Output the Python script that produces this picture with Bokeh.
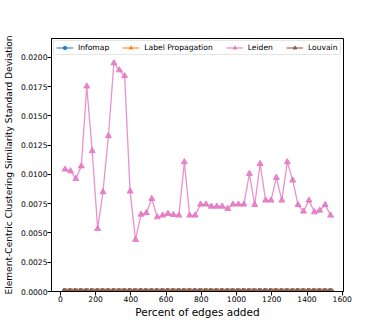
import math
from bokeh.plotting import figure
from bokeh.models import Range1d, FixedTicker, PrintfTickFormatter, Legend, LegendItem
from bokeh.embed import file_html
from bokeh.resources import INLINE

# ---------------- data ----------------
pct_added = [27, 58, 88, 119, 150, 181, 212, 242, 273, 304, 335, 365, 396, 427,
             458, 488, 519, 550, 581, 611, 642, 673, 704, 734, 765, 796, 827,
             857, 888, 919, 950, 980, 1011, 1042, 1073, 1103, 1134, 1165, 1196,
             1226, 1257, 1288, 1319, 1349, 1380, 1411, 1442, 1472, 1503, 1534]

infomap = [0.0, 0.0, 0.0, 0.0, 0.0, 0.0, 0.0, 0.0, 0.0, 0.0,
           0.0, 0.0, 0.0, 0.0, 0.0, 0.0, 0.0, 0.0, 0.0, 0.0,
           0.0, 0.0, 0.0, 0.0, 0.0, 0.0, 0.0, 0.0, 0.0, 0.0,
           0.0, 0.0, 0.0, 0.0, 0.0, 0.0, 0.0, 0.0, 0.0, 0.0,
           0.0, 0.0, 0.0, 0.0, 0.0, 0.0, 0.0, 0.0, 0.0, 0.0]
label_propagation = [0.0, 0.0, 0.0, 0.0, 0.0, 0.0, 0.0, 0.0, 0.0, 0.0,
                     0.0, 0.0, 0.0, 0.0, 0.0, 0.0, 0.0, 0.0, 0.0, 0.0,
                     0.0, 0.0, 0.0, 0.0, 0.0, 0.0, 0.0, 0.0, 0.0, 0.0,
                     0.0, 0.0, 0.0, 0.0, 0.0, 0.0, 0.0, 0.0, 0.0, 0.0,
                     0.0, 0.0, 0.0, 0.0, 0.0, 0.0, 0.0, 0.0, 0.0, 0.0]
leiden = [0.01043, 0.01028, 0.00963, 0.01070, 0.01752, 0.01200, 0.00536,
          0.00849, 0.01328, 0.01950, 0.01890, 0.01840, 0.00855, 0.00442,
          0.00658, 0.00670, 0.00792, 0.00635, 0.00650, 0.00664, 0.00655,
          0.00650, 0.01105, 0.00650, 0.00650, 0.00744, 0.00744, 0.00726,
          0.00726, 0.00726, 0.00707, 0.00744, 0.00744, 0.00744, 0.01006,
          0.00740, 0.01090, 0.00778, 0.00778, 0.00972, 0.00778, 0.01105,
          0.00949, 0.00740, 0.00684, 0.00778, 0.00678, 0.00692, 0.00740,
          0.00650]
louvain = [0.0, 0.0, 0.0, 0.0, 0.0, 0.0, 0.0, 0.0, 0.0, 0.0,
           0.0, 0.0, 0.0, 0.0, 0.0, 0.0, 0.0, 0.0, 0.0, 0.0,
           0.0, 0.0, 0.0, 0.0, 0.0, 0.0, 0.0, 0.0, 0.0, 0.0,
           0.0, 0.0, 0.0, 0.0, 0.0, 0.0, 0.0, 0.0, 0.0, 0.0,
           0.0, 0.0, 0.0, 0.0, 0.0, 0.0, 0.0, 0.0, 0.0, 0.0]

series_names = ["Infomap", "Label Propagation", "Leiden", "Louvain"]
x_ticks = [0, 200, 400, 600, 800, 1000, 1200, 1400, 1600]
y_ticks = [0.0, 0.0025, 0.005, 0.0075, 0.01, 0.0125, 0.015, 0.0175, 0.02]

# ---------------- styling ----------------
FONT = "DejaVu Sans"
X_START, X_END = -50, 1607
Y_START, Y_END = 0.0, 0.0216
W, H = 382, 327
ML, MR, MT, MB = 47, 39, 38, 36

p = figure(width=W, height=H, output_backend="svg", toolbar_location=None,
           title=None, x_range=Range1d(X_START, X_END),
           y_range=Range1d(Y_START, Y_END),
           min_border_left=ML, min_border_right=MR,
           min_border_top=MT, min_border_bottom=MB)
p.background_fill_color = "white"
p.border_fill_color = "white"
p.outline_line_color = "black"
p.outline_line_width = 1
p.xgrid.visible = False
p.ygrid.visible = False

for ax in (p.xaxis[0], p.yaxis[0]):
    ax.axis_line_color = "black"
    ax.major_tick_line_color = "black"
    ax.major_tick_in = 0
    ax.major_tick_out = 4
    ax.minor_tick_line_color = None
    ax.major_label_text_font = FONT
    ax.major_label_text_font_size = "7.6px"
    ax.major_label_text_color = "black"
    ax.major_label_standoff = 0
    ax.axis_label_text_font = FONT
    ax.axis_label_text_font_style = "normal"
    ax.axis_label_text_color = "black"

p.xaxis.ticker = FixedTicker(ticks=x_ticks)
p.yaxis.ticker = FixedTicker(ticks=y_ticks)
p.yaxis.formatter = PrintfTickFormatter(format="%.4f")

p.xaxis.axis_label = "Percent of edges added"
p.xaxis.axis_label_text_font_size = "10.5px"
p.xaxis.axis_label_standoff = 1

p.yaxis.axis_label = "Element-Centric Clustering Similarity Standard Deviation"
p.yaxis.axis_label_text_font_size = "9.1px"
p.yaxis.axis_label_standoff = 4

colors = ["#1f77b4", "#ff7f0e", "#e377c2", "#8c564b"]
markers = ["circle", "triangle", "triangle", "triangle"]
angles = [0.0, math.pi / 2, 0.0, -math.pi / 2]
values = [infomap, label_propagation, leiden, louvain]

items = []
for name, col, mk, ang, ys in zip(series_names, colors, markers, angles, values):
    r1 = p.line(pct_added, ys, line_color=col, line_width=1.3, line_alpha=0.8)
    r2 = p.scatter(pct_added, ys, marker=mk, angle=ang, size=6,
                   fill_color=col, line_color=col, fill_alpha=0.85,
                   line_alpha=0.85)
    items.append(LegendItem(label=name, renderers=[r1, r2]))

legend = Legend(items=items, orientation="horizontal", location="top_left")
legend.margin = 2
legend.padding = 2
legend.spacing = 13
legend.glyph_width = 17
legend.glyph_height = 9
legend.label_height = 9
legend.label_standoff = 5
legend.label_text_font = FONT
legend.label_text_font_size = "7.6px"
legend.label_text_color = "black"
legend.border_line_color = "#cccccc"
legend.border_line_width = 1
legend.background_fill_color = "white"
legend.background_fill_alpha = 0.8
if "border_radius" in Legend.properties():
    legend.border_radius = 2
p.add_layout(legend, "center")

open("out.html", "w").write(file_html(p, INLINE))
